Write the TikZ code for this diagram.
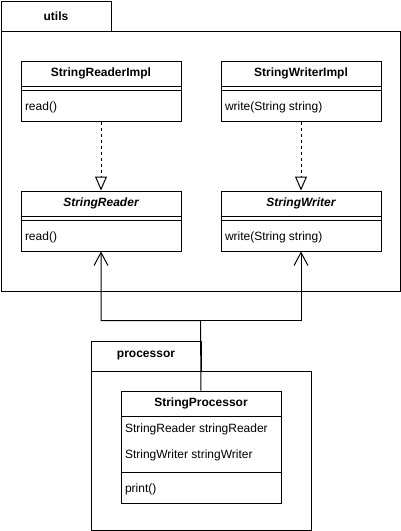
\documentclass[tikz,border=0pt]{standalone}
\usepackage{fontspec}
\setmainfont{Liberation Sans}
\usetikzlibrary{arrows.meta}
\begin{document}
\begin{tikzpicture}[x=1pt,y=-1pt,line width=1pt,
  font=\fontsize{12pt}{14pt}\selectfont,
  frame/.style={draw,rectangle,inner sep=0pt,anchor=north west},
  title/.style={font=\fontsize{12pt}{14pt}\selectfont\bfseries,inner sep=0pt},
  ititle/.style={font=\fontsize{12pt}{14pt}\selectfont\bfseries\itshape,inner sep=0pt},
  member/.style={anchor=west,inner sep=0pt},
  real/.style={dashed,dash pattern=on 3pt off 3pt,-{Triangle[open,length=14pt,width=12pt]}},
  dep/.style={-{Straight Barb[length=13pt,width=14pt]}}]
\useasboundingbox (0,0) rectangle (401,531);
% packages
\node[frame,minimum width=110pt,minimum height=30pt] (utab) at (0.5,0.5) {};
\node[title] (utabt) at (utab.center) {utils};
\node[frame,minimum width=399pt,minimum height=260pt] (ubody) at (0.5,30.5) {};
\node[frame,minimum width=110pt,minimum height=30pt] (ptab) at (90.5,340.5) {};
\node[title] (ptabt) at (ptab.center) {processor};
\node[frame,minimum width=220pt,minimum height=159pt] (pbody) at (90.5,370.5) {};
% classes
\node[frame,minimum width=160pt,minimum height=60pt] (sri) at (20.5,60.5) {};
\node[frame,minimum width=160pt,minimum height=60pt] (swi) at (220.5,60.5) {};
\node[frame,minimum width=160pt,minimum height=60pt] (sr) at (20.5,190.5) {};
\node[frame,minimum width=160pt,minimum height=60pt] (sw) at (220.5,190.5) {};
\node[frame,minimum width=160pt,minimum height=112pt] (sp) at (120.5,390.5) {};
\foreach \c in {sri,swi,sr,sw}{
  \draw ([yshift=-26pt]\c.north west) -- ([yshift=-26pt]\c.north east);
  \draw ([yshift=-30pt]\c.north west) -- ([yshift=-30pt]\c.north east);
}
\node[title] (srit) at ([yshift=-13pt]sri.north) {StringReaderImpl};
\node[member] (srim) at ([xshift=4pt,yshift=-47pt]sri.north west) {read()};
\node[title] (swit) at ([yshift=-13pt]swi.north) {StringWriterImpl};
\node[member] (swim) at ([xshift=4pt,yshift=-47pt]swi.north west) {write(String string)};
\node[ititle] (srt) at ([yshift=-13pt]sr.north) {StringReader};
\node[member] (srm) at ([xshift=4pt,yshift=-47pt]sr.north west) {read()};
\node[ititle] (swt) at ([yshift=-13pt]sw.north) {StringWriter};
\node[member] (swm) at ([xshift=4pt,yshift=-47pt]sw.north west) {write(String string)};
% StringProcessor
\draw ([yshift=-26pt]sp.north west) -- ([yshift=-26pt]sp.north east);
\draw ([yshift=-82pt]sp.north west) -- ([yshift=-82pt]sp.north east);
\node[title] (spt) at ([yshift=-13pt]sp.north) {StringProcessor};
\node[member] (spa1) at ([xshift=4pt,yshift=-39pt]sp.north west) {StringReader stringReader};
\node[member] (spa2) at ([xshift=4pt,yshift=-65pt]sp.north west) {StringWriter stringWriter};
\node[member] (spm) at ([xshift=4pt,yshift=-99pt]sp.north west) {print()};
% connectors
\draw[real] (sri.south) -- (sr.north);
\draw[real] (swi.south) -- (sw.north);
\coordinate (j) at (200.5,320.5);
\draw[dep] (sp.north) -- (j) -| (sr.south);
\draw[dep] (j) -| (sw.south);
\end{tikzpicture}
\end{document}
